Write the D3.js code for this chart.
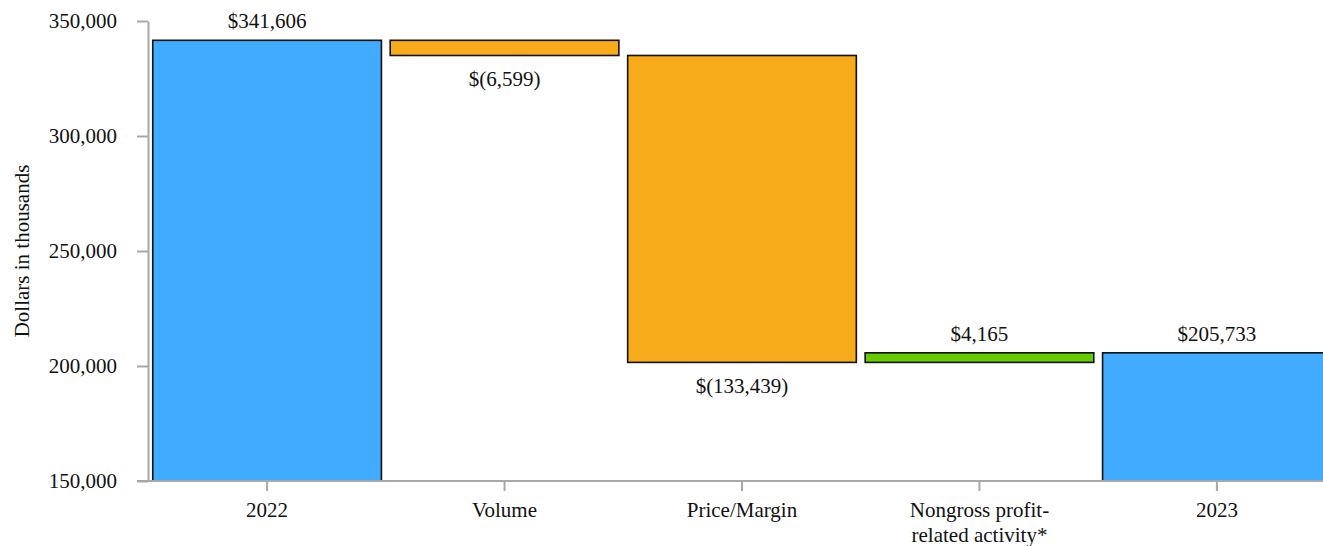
<!DOCTYPE html>
<html>
<head>
<meta charset="utf-8">
<script src="https://cdn.jsdelivr.net/npm/d3@7"></script>
<style>
  body { margin: 0; background: #fff; overflow: hidden; }
  svg text { font-family: 'Liberation Serif', 'Times New Roman', Times, 'DejaVu Serif', serif; }
</style>
</head>
<body>
<svg id="chart" width="1323" height="546"></svg>
<script>
const categories = ["2022", "Volume", "Price/Margin", "Nongross profit-related activity*", "2023"];
const categoryLines = [["2022"], ["Volume"], ["Price/Margin"], ["Nongross profit-", "related activity*"], ["2023"]];
const changes = [341606, -6599, -133439, 4165, 205733];
const kinds = ["total", "delta", "delta", "delta", "total"];
const labels = ["$341,606", "$(6,599)", "$(133,439)", "$4,165", "$205,733"];
const yTicks = [150000, 200000, 250000, 300000, 350000];

const colors = { total: "#40abff", neg: "#f8ab1a", pos: "#66cc00" };
const FONT = "Liberation Serif, Times New Roman, Times, serif";

// build waterfall segments
let running = 0;
const bars = categories.map((c, i) => {
  let y0, y1;
  if (kinds[i] === "total") { y0 = 0; y1 = changes[i]; running = changes[i]; }
  else { y0 = running; y1 = running + changes[i]; running = y1; }
  return { cat: c, lo: Math.min(y0, y1), hi: Math.max(y0, y1), v: changes[i], kind: kinds[i], label: labels[i] };
});

const svg = d3.select("#chart");
const x = d3.scaleBand().domain(categories).range([148, 1336]).paddingInner(0.037).paddingOuter(0.02);
const y = d3.scaleLinear().domain([150000, 350000]).range([481, 21]);

// bars
svg.append("g").selectAll("rect").data(bars).join("rect")
  .attr("x", d => x(d.cat))
  .attr("width", x.bandwidth())
  .attr("y", d => y(Math.min(d.hi, 350000)))
  .attr("height", d => y(Math.max(d.lo, 150000)) - y(d.hi))
  .attr("fill", d => d.kind === "total" ? colors.total : (d.v < 0 ? colors.neg : colors.pos))
  .attr("stroke", "#111")
  .attr("stroke-width", 1.6);

// value labels
svg.append("g").selectAll("text").data(bars).join("text")
  .attr("x", d => x(d.cat) + x.bandwidth() / 2)
  .attr("y", d => d.v < 0 ? y(d.lo) + 31 : y(d.hi) - 12)
  .attr("text-anchor", "middle")
  .attr("font-family", FONT)
  .attr("font-size", 21)
  .attr("fill", "#111")
  .text(d => d.label);

// y axis
const yAxis = d3.axisLeft(y).tickValues(yTicks).tickFormat(d3.format(",")).tickSize(11).tickPadding(20).tickSizeOuter(0);
const gy = svg.append("g").attr("transform", "translate(148,0)").call(yAxis).attr("font-family", FONT);
gy.select(".domain").attr("stroke", "#a8a8a8").attr("stroke-width", 2);
gy.selectAll(".tick line").attr("stroke", "#a8a8a8").attr("stroke-width", 2);
gy.selectAll(".tick text").attr("font-size", 21).attr("fill", "#111").attr("font-family", FONT);

// x axis
const xAxis = d3.axisBottom(x).tickSize(10).tickSizeOuter(0).tickFormat("");
const gx = svg.append("g").attr("transform", "translate(0,481)").call(xAxis).attr("font-family", FONT);
gx.select(".domain").attr("d", "M137,0H1323").attr("stroke", "#a8a8a8").attr("stroke-width", 2);
gx.selectAll(".tick line").attr("stroke", "#a8a8a8").attr("stroke-width", 2);
gx.selectAll(".tick").each(function(d, i) {
  const t = d3.select(this).append("text")
    .attr("text-anchor", "middle")
    .attr("font-size", 21)
    .attr("fill", "#111")
    .attr("font-family", FONT);
  categoryLines[i].forEach((ln, j) => {
    t.append("tspan").attr("x", 0).attr("y", 36 + j * 25).text(ln);
  });
});

// y axis title
svg.append("text")
  .attr("transform", "translate(29,251) rotate(-90)")
  .attr("text-anchor", "middle")
  .attr("font-family", FONT)
  .attr("font-size", 21)
  .attr("fill", "#111")
  .text("Dollars in thousands");
</script>
</body>
</html>
